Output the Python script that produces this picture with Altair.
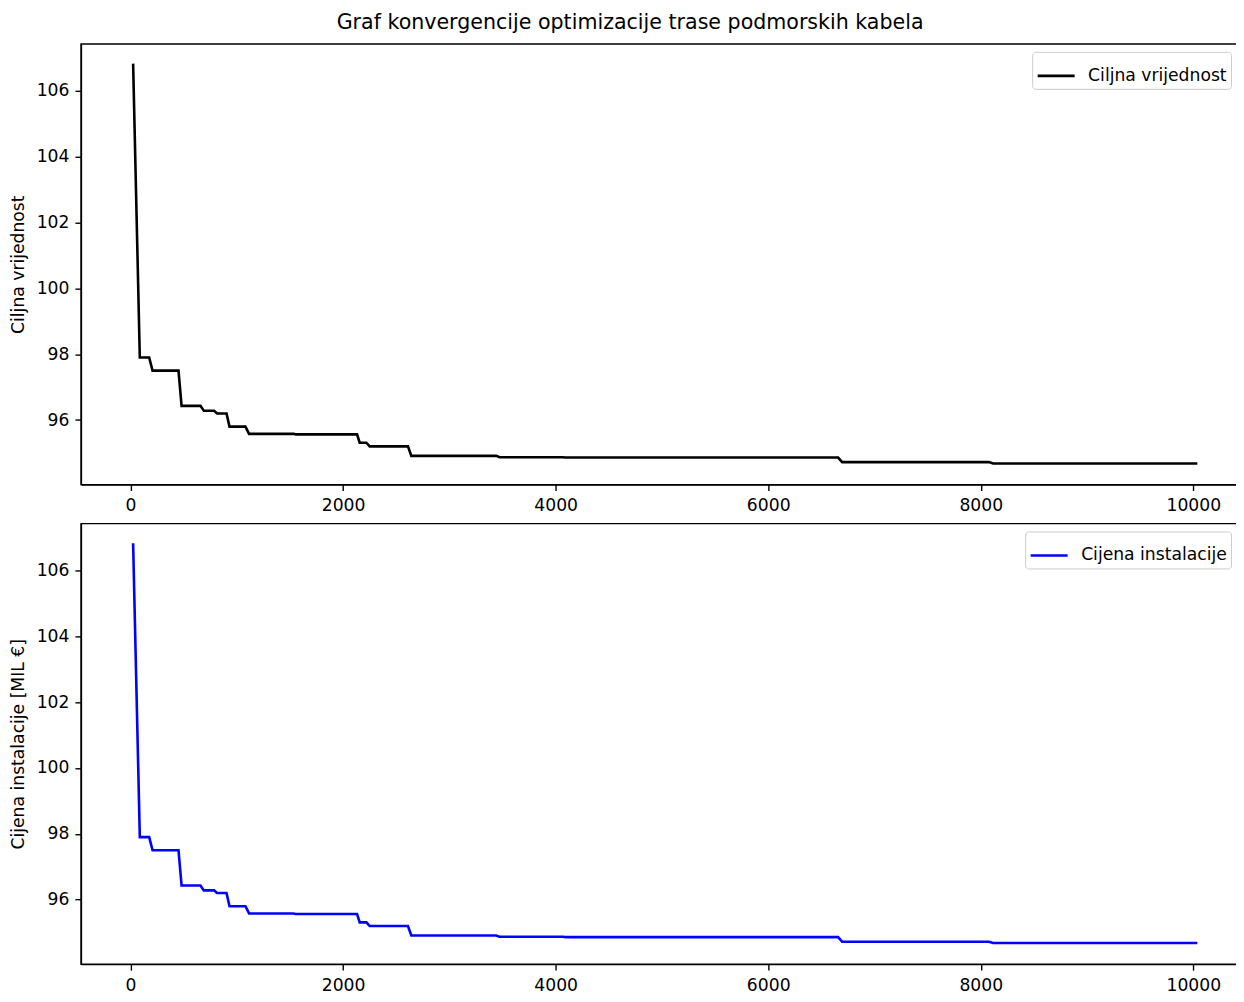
import altair as alt
import pandas as pd

# iteration numbers at the corners of the convergence staircase
iterations = [24, 87, 175, 207, 451, 480, 658, 689, 786, 814, 903, 931, 1081, 1115, 1533,
              1554, 2131, 2156, 2219, 2250, 2610, 2642, 3441, 3472, 4067, 4093, 6658,
              6696, 8077, 8116, 10038]
# objective value (Ciljna vrijednost)
objective = [106.83, 97.90, 97.90, 97.50, 97.50, 96.43, 96.43, 96.28, 96.28, 96.20, 96.20,
             95.80, 95.80, 95.58, 95.58, 95.565, 95.565, 95.31, 95.31, 95.20, 95.20,
             94.91, 94.91, 94.87, 94.87, 94.86, 94.86, 94.72, 94.72, 94.68, 94.68]
# installation cost [MIL €]
install_cost = [106.83, 97.90, 97.90, 97.50, 97.50, 96.43, 96.43, 96.28, 96.28, 96.20, 96.20,
                95.80, 95.80, 95.58, 95.58, 95.565, 95.565, 95.31, 95.31, 95.20, 95.20,
                94.91, 94.91, 94.87, 94.87, 94.86, 94.86, 94.72, 94.72, 94.68, 94.68]

x_ticks = [0, 2000, 4000, 6000, 8000, 10000]
y_ticks = [96, 98, 100, 102, 104, 106]

FONT = "DejaVu Sans"
FS = 17.2


def panel(values, name, color, ytitle, legend_x):
    df = pd.DataFrame({"iter": iterations, "val": values, "series": name})
    return alt.Chart(df).mark_line(strokeWidth=2.6, clip=True).encode(
        x=alt.X("iter:Q",
                scale=alt.Scale(domain=[-467, 10543], nice=False, zero=False),
                axis=alt.Axis(values=x_ticks, title=None, format="d")),
        y=alt.Y("val:Q",
                scale=alt.Scale(domain=[94.04, 107.43], nice=False, zero=False),
                axis=alt.Axis(values=y_ticks, title=ytitle, format="d")),
        color=alt.Color("series:N",
                        scale=alt.Scale(domain=[name], range=[color]),
                        legend=alt.Legend(title=None, orient="none",
                                          legendX=legend_x, legendY=8)),
    ).properties(width=1171, height=441)


top = panel(objective, "Ciljna vrijednost", "#000000", "Ciljna vrijednost", 952)
bottom = panel(install_cost, "Cijena instalacije", "#0000ff", "Cijena instalacije [MIL €]", 945)

chart = alt.vconcat(top, bottom, spacing=8).resolve_scale(color="independent").properties(
    title=alt.TitleParams("Graf konvergencije optimizacije trase podmorskih kabela",
                          font=FONT, fontSize=20.6, fontWeight="normal", color="#000000",
                          anchor="middle", offset=10),
    padding={"left": 0, "right": -16, "top": 3.5, "bottom": 0},
).configure_view(
    stroke="#000000", strokeWidth=1.4
).configure_axis(
    grid=False, domain=True, domainColor="#000000", domainWidth=1.4,
    tickColor="#000000", tickWidth=1.4, tickSize=6, labelPadding=6,
    labelFont=FONT, labelFontSize=FS, labelColor="#000000",
    titleFont=FONT, titleFontSize=FS, titleFontWeight="normal", titleColor="#000000",
    titlePadding=9, labelFlush=False,
).configure_legend(
    labelFont=FONT, labelFontSize=FS, labelColor="#000000",
    symbolType="stroke", symbolSize=1369, symbolStrokeWidth=2.6,
    labelOffset=12, padding=4, cornerRadius=3, strokeColor="#cccccc",
    fillColor="#ffffff", labelLimit=400,
)

chart.save("out.html", embed_options={"renderer": "svg", "actions": False})
